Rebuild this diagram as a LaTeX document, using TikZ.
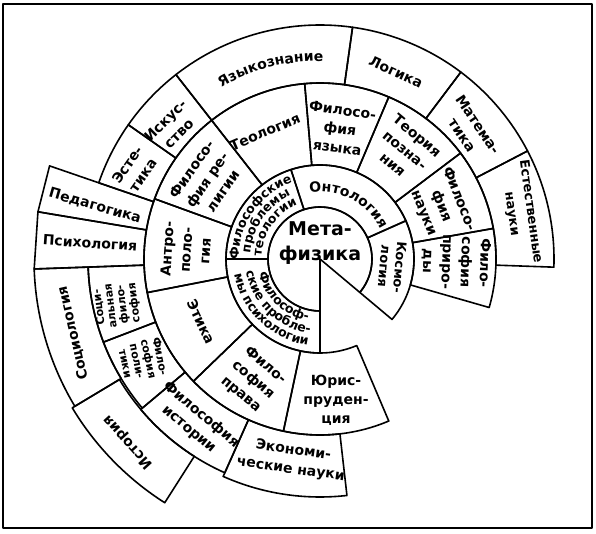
\documentclass[tikz,border=0pt]{standalone}
\usepackage{fontspec}
\setmainfont{DejaVu Sans}
\usetikzlibrary{decorations.text}
\newcommand\annsec[4]{\draw ([shift={(C)}]#1:#3) arc[start angle=#1,end angle=#2,radius=#3] -- ([shift={(C)}]#2:#4) arc[start angle=#2,end angle=#1,radius=#4] -- cycle;}
\newcommand\arclabel[5]{\path[decorate,decoration={text along path,text align=center,text={|#4|#5}}] ([shift={(C)}]#2:#1) arc[start angle=#2,end angle=#3,radius=#1];}
\newcommand\fA{\fontsize{12.5}{12.5}\selectfont\bfseries}
\newcommand\fB{\fontsize{14}{14}\selectfont\bfseries}
\tikzset{
  lbl/.style={font=\fontsize{14}{19}\selectfont\bfseries, align=center, inner sep=0pt},
  sml/.style={font=\fontsize{11}{11.8}\selectfont\bfseries, align=center, inner sep=0pt},
  big/.style={font=\fontsize{19}{25}\selectfont\bfseries, align=center, inner sep=0pt},
}
\begin{document}
\begin{tikzpicture}[x=1pt,y=1pt,line width=1.6pt,line join=round]
\useasboundingbox (0,0) rectangle (596,-534);
\coordinate (C) at (320,-259);
\draw (3,-4) rectangle (592,-528);
% centre
\draw (C) -- ([shift={(C)}]-40:52) arc[start angle=-40,end angle=270,radius=52] -- cycle;
% ring A
\annsec{-40}{24}{52}{94}
\annsec{24}{108}{52}{94}
\annsec{108}{180}{52}{94}
\annsec{180}{270}{52}{94}
% ring B
\annsec{-16}{10}{94}{176}
\annsec{10}{37}{94}{176}
\annsec{37}{67}{94}{176}
\annsec{67}{95}{94}{176}
\annsec{95}{128}{94}{176}
\annsec{128}{160}{94}{176}
\annsec{160}{191}{94}{176}
\annsec{191}{224}{94}{176}
\annsec{224}{258}{94}{176}
\annsec{258}{293}{94}{176}
% ring C
\annsec{-2}{27.5}{176}{234}
\annsec{27.5}{53}{176}{234}
\annsec{53}{82}{176}{234}
\annsec{82}{128}{176}{234}
\annsec{128}{145}{176}{234}
\annsec{145}{161}{176}{234}
\draw ([shift={(C)}]161:176) -- ([shift={(C)}]161:286) -- ([shift={(C)}]170.5:286) -- ([shift={(C)}]170.5:176) arc[start angle=170.5,end angle=161,radius=176] -- cycle;
\draw ([shift={(C)}]170.5:176) -- ([shift={(C)}]170.5:286) -- ([shift={(C)}]182:286) -- ([shift={(C)}]182:176) arc[start angle=182,end angle=170.5,radius=176] -- cycle;
\annsec{182}{201}{176}{232}
\annsec{201}{220}{176}{232}
\annsec{220}{246}{176}{234}
\annsec{246}{276.5}{176}{238}
% ring D
\annsec{182}{211}{232}{286}
\annsec{211}{237.5}{234}{289}
% labels
\node[big] (meta) at (320,-243) {Мета-\\физика};
\arclabel{67}{110}{15}{\fB}{Онтология}
\node[lbl,font=\fontsize{13}{15.5}\selectfont\bfseries,rotate=-95] (kosmo) at (392,-267) {Космо-\\логия};
\arclabel{81.5}{186}{104}{\fA}{Философские}
\arclabel{70}{186}{104}{\fA}{проблемы}
\arclabel{58.5}{186}{104}{\fA}{теологии}
\arclabel{63}{182}{270}{\fA}{Философ-}
\arclabel{75}{182}{270}{\fA}{ские пробле-}
\arclabel{87}{182}{270}{\fA}{мы психологии}
\node[lbl,rotate=-92] (fprir) at (456,-262) {Фило-\\софия\\приро-\\ды};
\node[lbl,rotate=-68] (fnauk) at (441,-206) {Филосо-\\фия\\науки};
\node[lbl,rotate=-40] (teorp) at (405,-150) {Теория\\позна-\\ния};
\node[lbl,rotate=-8] (fyaz) at (340,-129) {Филосо-\\фия\\языка};
\node[lbl,rotate=23] (teol) at (265,-132) {Теология};
\node[lbl,rotate=55] (frel) at (207,-180) {Филосо-\\фия ре-\\лигии};
\node[lbl,rotate=86] (antr) at (186,-250) {Антро-\\поло-\\гия};
\node[lbl,rotate=-65] (etika) at (201,-322) {Этика};
\node[lbl,rotate=-40] (fprav) at (253,-380) {Фило-\\софия\\права};
\node[lbl] (yur) at (336,-400) {Юрис-\\пруден-\\ция};
\node[lbl,font=\fontsize{13}{19}\selectfont\bfseries,rotate=-82] (estn) at (521,-213) {Естественные\\науки};
\node[lbl,rotate=-56] (matem) at (470,-130) {Матема-\\тика};
\node[lbl,rotate=-25] (logik) at (396,-72) {Логика};
\arclabel{198}{127}{82}{\fB}{Языкознание}
\node[lbl,rotate=45] (iskus) at (172,-127) {Искус-\\ство};
\node[lbl,rotate=55] (estet) at (135,-170) {Эсте-\\тика};
\node[lbl,rotate=-16] (pedag) at (95,-206) {Педагогика};
\node[lbl,rotate=-4] (psih) at (90,-243) {Психология};
\node[sml,rotate=97] (socf) at (117,-305) {Соци-\\альная\\фило-\\софия};
\node[sml,rotate=-78] (fpol) at (143,-360) {Фило-\\софия\\поли-\\тики};
\node[lbl,rotate=103] (sociol) at (73,-333) {Социология};
\node[lbl,rotate=132] (istor) at (128,-442) {История};
\node[lbl,rotate=-40] (fist) at (195,-422) {Философия\\истории};
\node[lbl,rotate=-8] (ekon) at (292,-460) {Экономи-\\ческие науки};
\end{tikzpicture}
\end{document}
